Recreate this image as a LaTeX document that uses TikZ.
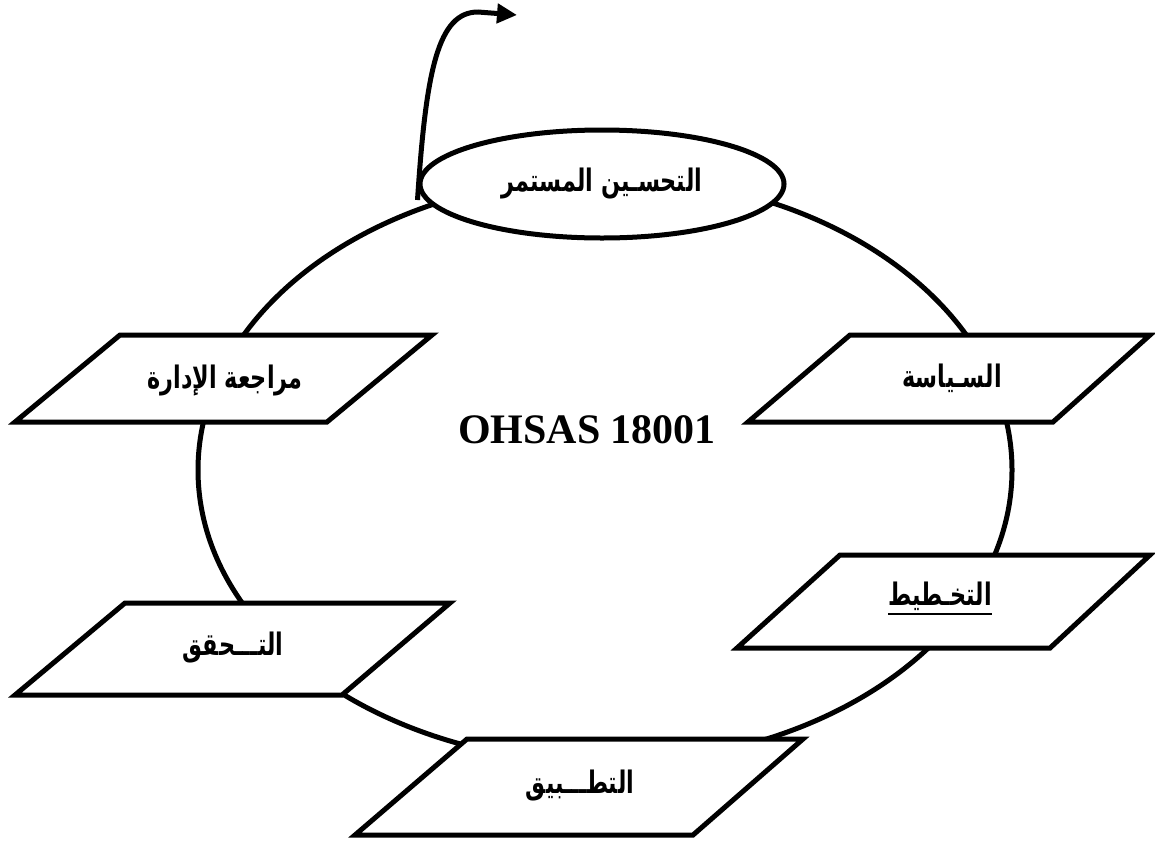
\documentclass[tikz,border=0pt]{standalone}
\usepackage{fontspec}
\setmainfont{Liberation Serif}
\newfontfamily\arabicfont[Script=Arabic,FakeStretch=0.72]{DejaVu Sans}
\TeXXeTstate=1
\usetikzlibrary{arrows.meta,shapes.geometric}
\begin{document}
\begin{tikzpicture}[x=1pt,y=-1pt,
  heavy/.style={line width=5pt},
  stage/.style={draw=black,fill=white,line width=5pt,line join=miter},
  lbl/.style={font=\arabicfont\bfseries\fontsize{31}{35}\selectfont,inner sep=0pt},
]
\useasboundingbox (0,0) rectangle (1155,844);

% the management cycle
\draw[heavy] (605,470) ellipse [x radius=407, y radius=293];

% continual improvement
\node[ellipse,draw,fill=white,heavy,minimum width=364pt,minimum height=108pt,
      inner sep=0pt,lbl] (ci) at (602,184) {\beginR التحسـين المستمر\endR};
\coordinate (out) at (517,15);
\draw[heavy,-{Triangle[length=20pt,width=19pt]}]
  ([yshift=-16pt]ci.west) .. controls (426,70) and (438,12) .. (478,12) -- (out);

% stages of the cycle
\filldraw[stage] (120,335) -- (432,335) -- (327,422) -- (15,422) -- cycle;
\node[lbl] (review) at (225,380) {\beginR مراجعة الإدارة\endR};

\filldraw[stage] (850,335) -- (1150,335) -- (1053,422) -- (748,422) -- cycle;
\node[lbl] (policy) at (952,378) {\beginR السـياسة\endR};

\filldraw[stage] (840,555) -- (1150,555) -- (1050,648) -- (737,648) -- cycle;
\node[lbl] (plan) at (940,596) {\beginR التخـطيط\endR};
\draw[line width=2pt] ([yshift=-3pt]plan.south west) -- ([yshift=-3pt]plan.south east);

\filldraw[stage] (125,603) -- (450,603) -- (342,695) -- (15,695) -- cycle;
\node[lbl] (check) at (233,648) {\beginR التـــحقق\endR};

\filldraw[stage] (467,739) -- (803,739) -- (693,835) -- (355,835) -- cycle;
\node[lbl] (do) at (580,786) {\beginR التطـــبيق\endR};

% standard name
\node[font=\bfseries\fontsize{42}{48}\selectfont,inner sep=0pt] (std) at (587,430) {OHSAS 18001};
\end{tikzpicture}
\end{document}
